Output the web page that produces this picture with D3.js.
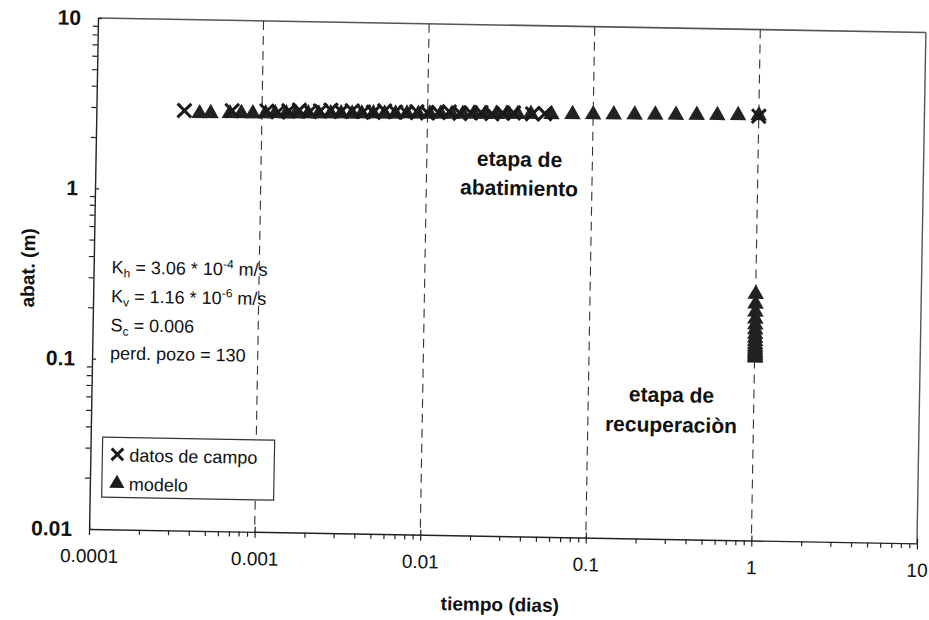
<!DOCTYPE html>
<html>
<head>
<meta charset="utf-8">
<script src="https://cdn.jsdelivr.net/npm/d3@7"></script>
<style>
  body { margin: 0; background: #fff; }
  svg { display: block; }
  text { font-family: "Liberation Sans", Arial, Helvetica, sans-serif; fill: #111; }
</style>
</head>
<body>
<svg id="chart" width="929" height="620"></svg>
<script>
// Drawdown vs. time, pumping test (log-log)

// Axis ticks
const xMajor = [0.0001, 0.001, 0.01, 0.1, 1, 10];
const xTickLabels = ["0.0001", "0.001", "0.01", "0.1", "1", "10"];
const yMajor = [0.01, 0.1, 1, 10];
const yTickLabels = ["0.01", "0.1", "1", "10"];
const gridX = [0.001, 0.01, 0.1, 1];

// Field measurements (datos de campo): time [days], drawdown [m]
const campoT = [0.00034, 0.00066, 0.00107, 0.00125, 0.00145, 0.00168, 0.00195, 0.00225,
  0.0026, 0.003, 0.0035, 0.0041, 0.0047, 0.0055, 0.0064, 0.0074, 0.0086, 0.01, 0.0116,
  0.0135, 0.0157, 0.0182, 0.021, 0.0245, 0.0285, 0.033, 0.043, 0.051, 1.0];
const campoAbat = [2.92, 2.95, 2.96, 2.93, 2.98, 3.02, 2.97, 3.0, 3.04, 2.99, 3.03, 3.0,
  2.98, 3.05, 3.01, 3.0, 3.04, 2.99, 3.02, 3.06, 3.0, 3.03, 3.05, 3.01, 3.04, 3.06, 3.03,
  3.05, 3.1];

// Model (modelo): pumping stage followed by recovery stage
const modeloT = [0.00042, 0.00049, 0.00064, 0.00075, 0.00088, 0.00105, 0.0012, 0.0014,
  0.0016, 0.0019, 0.0022, 0.0026, 0.003, 0.0035, 0.004, 0.0047, 0.0055, 0.0064, 0.0075,
  0.0088, 0.0103, 0.012, 0.014, 0.0163, 0.019, 0.0222, 0.026, 0.03, 0.035, 0.042, 0.056,
  0.075, 0.1, 0.133, 0.178, 0.237, 0.316, 0.422, 0.562, 0.75, 1.0,
  1.001, 1.0015, 1.002, 1.0025, 1.003, 1.0035, 1.004, 1.0045, 1.005, 1.0055, 1.006,
  1.0065, 1.007, 1.0075, 1.008, 1.0085, 1.009];
const modeloAbat = [2.82, 2.83, 2.84, 2.85, 2.85, 2.86, 2.87, 2.87, 2.88, 2.89, 2.89,
  2.9, 2.91, 2.91, 2.92, 2.93, 2.93, 2.94, 2.95, 2.95, 2.96, 2.97, 2.97, 2.98, 2.99,
  2.99, 3.0, 3.01, 3.01, 3.02, 3.03, 3.04, 3.05, 3.06, 3.07, 3.08, 3.09, 3.1, 3.11,
  3.12, 3.13,
  0.28, 0.245, 0.22, 0.2, 0.185, 0.173, 0.163, 0.155, 0.148, 0.142, 0.137, 0.133,
  0.129, 0.126, 0.123, 0.12, 0.118];

const W = 828, H = 511;
const svg = d3.select("#chart");
svg.append("rect").attr("width", 929).attr("height", 620).attr("fill", "#fff");

// whole sheet sits slightly tilted
const g = svg.append("g").attr("transform", "translate(98,18) rotate(1.0)");

const x = d3.scaleLog().domain([0.0001, 10]).range([0, W]);
const y = d3.scaleLog().domain([0.01, 10]).range([H, 0]);

const minorOf = (majors) => {
  const out = [];
  for (let i = 0; i < majors.length - 1; i++)
    for (let k = 2; k <= 9; k++) out.push(majors[i] * k);
  return out;
};

// plot frame (top and right)
g.append("line").attr("x1", 0).attr("x2", W).attr("y1", 0).attr("y2", 0)
  .attr("stroke", "#555").attr("stroke-width", 1.6);
g.append("line").attr("x1", W).attr("x2", W).attr("y1", 0).attr("y2", H)
  .attr("stroke", "#555").attr("stroke-width", 1.4);

// vertical dashed gridlines
g.append("g").selectAll("line").data(gridX).join("line")
  .attr("x1", d => x(d)).attr("x2", d => x(d))
  .attr("y1", 0).attr("y2", H)
  .attr("stroke", "#333").attr("stroke-width", 1.1)
  .attr("stroke-dasharray", "9,6");

// x axis
const xAxisMinor = g.append("g").attr("transform", `translate(0,${H})`)
  .call(d3.axisBottom(x).tickValues(minorOf(xMajor)).tickFormat("").tickSizeOuter(0).tickSizeInner(5));
xAxisMinor.select(".domain").remove();
const xAxis = g.append("g").attr("transform", `translate(0,${H})`)
  .call(d3.axisBottom(x).tickValues(xMajor).tickFormat((d, i) => xTickLabels[i])
    .tickSizeOuter(0).tickSizeInner(6).tickPadding(14));
xAxis.selectAll(".tick line").attr("y1", -5);
xAxis.selectAll(".tick text").style("font-size", "19px").attr("fill", "#111");

// y axis
const yAxisMinor = g.append("g")
  .call(d3.axisLeft(y).tickValues(minorOf(yMajor)).tickFormat("").tickSizeOuter(0).tickSizeInner(5));
yAxisMinor.select(".domain").remove();
const yAxis = g.append("g")
  .call(d3.axisLeft(y).tickValues(yMajor).tickFormat((d, i) => yTickLabels[i])
    .tickSizeOuter(0).tickSizeInner(7).tickPadding(10));
yAxis.selectAll(".tick line").attr("x2", 4);
yAxis.selectAll(".tick text").style("font-size", "21px").style("font-weight", "bold").attr("fill", "#111");
g.selectAll(".domain").attr("stroke", "#222").attr("stroke-width", 1.4);
g.selectAll(".tick line").attr("stroke", "#222").attr("stroke-width", 1.2);

// axis titles
g.append("text").attr("x", 412).attr("y", 586).attr("text-anchor", "middle")
  .style("font-size", "19px").style("font-weight", "bold").text("tiempo (dias)");
g.append("text").attr("transform", "translate(-59,251) rotate(-90)").attr("text-anchor", "middle")
  .style("font-size", "19px").style("font-weight", "bold").text("abat. (m)");

// markers
const tri = d3.symbol().type(d3.symbolTriangle).size(118);
const cross = d3.symbol().type(d3.symbolX).size(125);

g.append("g").selectAll("path").data(modeloT.map((t, i) => [t, modeloAbat[i]])).join("path")
  .attr("transform", d => `translate(${x(d[0])},${y(d[1])})`)
  .attr("d", tri).attr("fill", "#222");

g.append("g").selectAll("path").data(campoT.map((t, i) => [t, campoAbat[i]])).join("path")
  .attr("transform", d => `translate(${x(d[0])},${y(d[1])})`)
  .attr("d", cross).attr("fill", "none").attr("stroke", "#1a1a1a").attr("stroke-width", 3);

// parameter block
const p1 = g.append("text").style("font-size", "18px").attr("x", 18).attr("y", 255);
p1.append("tspan").text("K");
p1.append("tspan").attr("dy", 4).style("font-size", "12px").text("h");
p1.append("tspan").attr("dy", -4).text(" = 3.06 * 10");
p1.append("tspan").attr("dy", -7).style("font-size", "12px").text("-4");
p1.append("tspan").attr("dy", 7).text(" m/s");
const p2 = g.append("text").style("font-size", "18px").attr("x", 18).attr("y", 284);
p2.append("tspan").text("K");
p2.append("tspan").attr("dy", 4).style("font-size", "12px").text("v");
p2.append("tspan").attr("dy", -4).text(" = 1.16 * 10");
p2.append("tspan").attr("dy", -7).style("font-size", "12px").text("-6");
p2.append("tspan").attr("dy", 7).text(" m/s");
const p3 = g.append("text").style("font-size", "18px").attr("x", 18).attr("y", 313);
p3.append("tspan").text("S");
p3.append("tspan").attr("dy", 4).style("font-size", "12px").text("c");
p3.append("tspan").attr("dy", -4).text(" = 0.006");
g.append("text").style("font-size", "18px").attr("x", 18).attr("y", 341).text("perd. pozo = 130");

// stage labels
g.append("text").attr("x", 424).attr("y", 141).attr("text-anchor", "middle")
  .style("font-size", "21px").style("font-weight", "bold").text("etapa de");
g.append("text").attr("x", 424).attr("y", 170).attr("text-anchor", "middle")
  .style("font-size", "21px").style("font-weight", "bold").text("abatimiento");
g.append("text").attr("x", 580).attr("y", 374).attr("text-anchor", "middle")
  .style("font-size", "21px").style("font-weight", "bold").text("etapa de");
g.append("text").attr("x", 580).attr("y", 404).attr("text-anchor", "middle")
  .style("font-size", "21px").style("font-weight", "bold").text("recuperaciòn");

// legend
const lg = g.append("g").attr("transform", "translate(12,419)");
lg.append("rect").attr("width", 172).attr("height", 60)
  .attr("fill", "#fff").attr("stroke", "#333").attr("stroke-width", 1.2);
lg.append("path").attr("transform", "translate(15,17)").attr("d", d3.symbol().type(d3.symbolX).size(90))
  .attr("fill", "none").attr("stroke", "#1a1a1a").attr("stroke-width", 3);
lg.append("text").attr("x", 27).attr("y", 24).style("font-size", "18px").text("datos de campo");
lg.append("path").attr("transform", "translate(15,46)").attr("d", d3.symbol().type(d3.symbolTriangle).size(100))
  .attr("fill", "#1a1a1a");
lg.append("text").attr("x", 27).attr("y", 53).style("font-size", "18px").text("modelo");
</script>
</body>
</html>
